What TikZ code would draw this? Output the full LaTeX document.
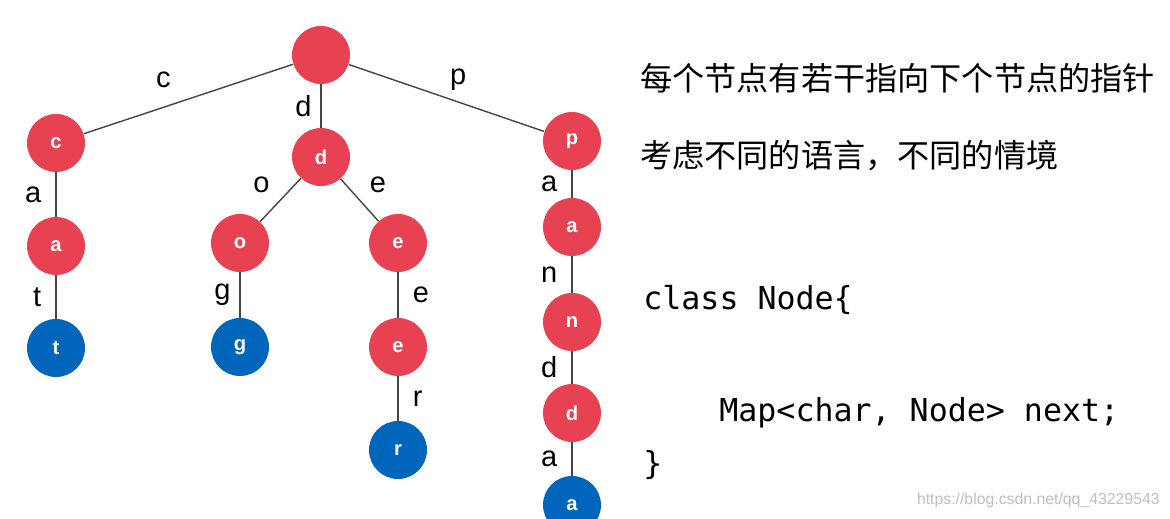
\documentclass[tikz,border=0pt]{standalone}
\usepackage{fontspec}
\setmainfont{Liberation Sans}
\setmonofont{DejaVu Sans Mono}
\newfontfamily\cjk{Noto Sans CJK SC}
\definecolor{nodered}{RGB}{231,65,82}
\definecolor{nodeblue}{RGB}{0,102,187}
\definecolor{edgegray}{RGB}{70,70,70}

\begin{document}
\begin{tikzpicture}[x=0.02cm,y=-0.02cm,
  trie/.style={circle,fill=nodered,text=white,minimum size=1.16cm,inner sep=0pt,
               font=\fontsize{11.5}{13}\selectfont\bfseries},
  leaf/.style={trie,fill=nodeblue},
  lbl/.style={font=\fontsize{16.5}{18}\selectfont,inner sep=2pt},
  link/.style={draw=edgegray,line width=0.8pt}]
 \useasboundingbox (0,0) rectangle (1170,519);
 \clip (0,0) rectangle (1170,519);
 % nodes
 \node[trie] (root)  at (321,55)  {};
 \node[trie] (c)     at (56,143)  {c};
 \node[trie] (ca)    at (56,246)  {a};
 \node[leaf] (cat)   at (56,348)  {t};
 \node[trie] (d)     at (321,157) {d};
 \node[trie] (do)    at (240,243) {o};
 \node[leaf] (dog)   at (240,347) {g};
 \node[trie] (de)    at (398,243) {e};
 \node[trie] (dee)   at (398,347) {e};
 \node[leaf] (deer)  at (398,450) {r};
 \node[trie] (p)     at (572,141) {p};
 \node[trie] (pa)    at (572,227) {a};
 \node[trie] (pan)   at (572,322) {n};
 \node[trie] (pand)  at (572,413) {d};
 \node[leaf] (panda) at (572,505) {a};
 % edges
 \draw[link] (root) -- node[lbl,pos=0.62,above=9pt]{c} (c);
 \draw[link] (root) -- node[lbl,pos=0.5,left=3pt]{d} (d);
 \draw[link] (root) -- node[lbl,pos=0.56,above=4pt]{p} (p);
 \draw[link] (c) -- node[lbl,left=6pt]{a} (ca);
 \draw[link] (ca) -- node[lbl,left=6pt]{t} (cat);
 \draw[link] (d) -- node[lbl,pos=0.15,left=12pt]{o} (do);
 \draw[link] (d) -- node[lbl,pos=0.15,right=11pt]{e} (de);
 \draw[link] (do) -- node[lbl,left=3pt]{g} (dog);
 \draw[link] (de) -- node[lbl,right=6pt]{e} (dee);
 \draw[link] (dee) -- node[lbl,right=6pt]{r} (deer);
 \draw[link] (p) -- node[lbl,left=6pt]{a} (pa);
 \draw[link] (pa) -- node[lbl,left=6pt]{n} (pan);
 \draw[link] (pan) -- node[lbl,left=6pt]{d} (pand);
 \draw[link] (pand) -- node[lbl,left=6pt]{a} (panda);
 % text
 \node[anchor=west,inner sep=0pt,font=\cjk\fontsize{18.3}{20}\selectfont] (t1) at (640,78) {每个节点有若干指向下个节点的指针};
 \node[anchor=west,inner sep=0pt,font=\cjk\fontsize{18.3}{20}\selectfont] (t2) at (640,156) {考虑不同的语言，不同的情境};
 % code
 \node[anchor=west,inner sep=0pt,font=\ttfamily\fontsize{18}{20}\selectfont] (k1) at (643,300) {class Node\{};
 \node[anchor=west,inner sep=0pt,font=\ttfamily\fontsize{18}{20}\selectfont] (k2) at (719,413) {Map<char, Node> next;};
 \node[anchor=west,inner sep=0pt,font=\ttfamily\fontsize{18}{20}\selectfont] (k3) at (643,465) {\}};
 % watermark
 \node[anchor=east,inner sep=0pt,text=black!25,font=\fontsize{9}{10}\selectfont] (wm) at (1160,500) {https://blog.csdn.net/qq\_43229543};
\end{tikzpicture}
\end{document}
